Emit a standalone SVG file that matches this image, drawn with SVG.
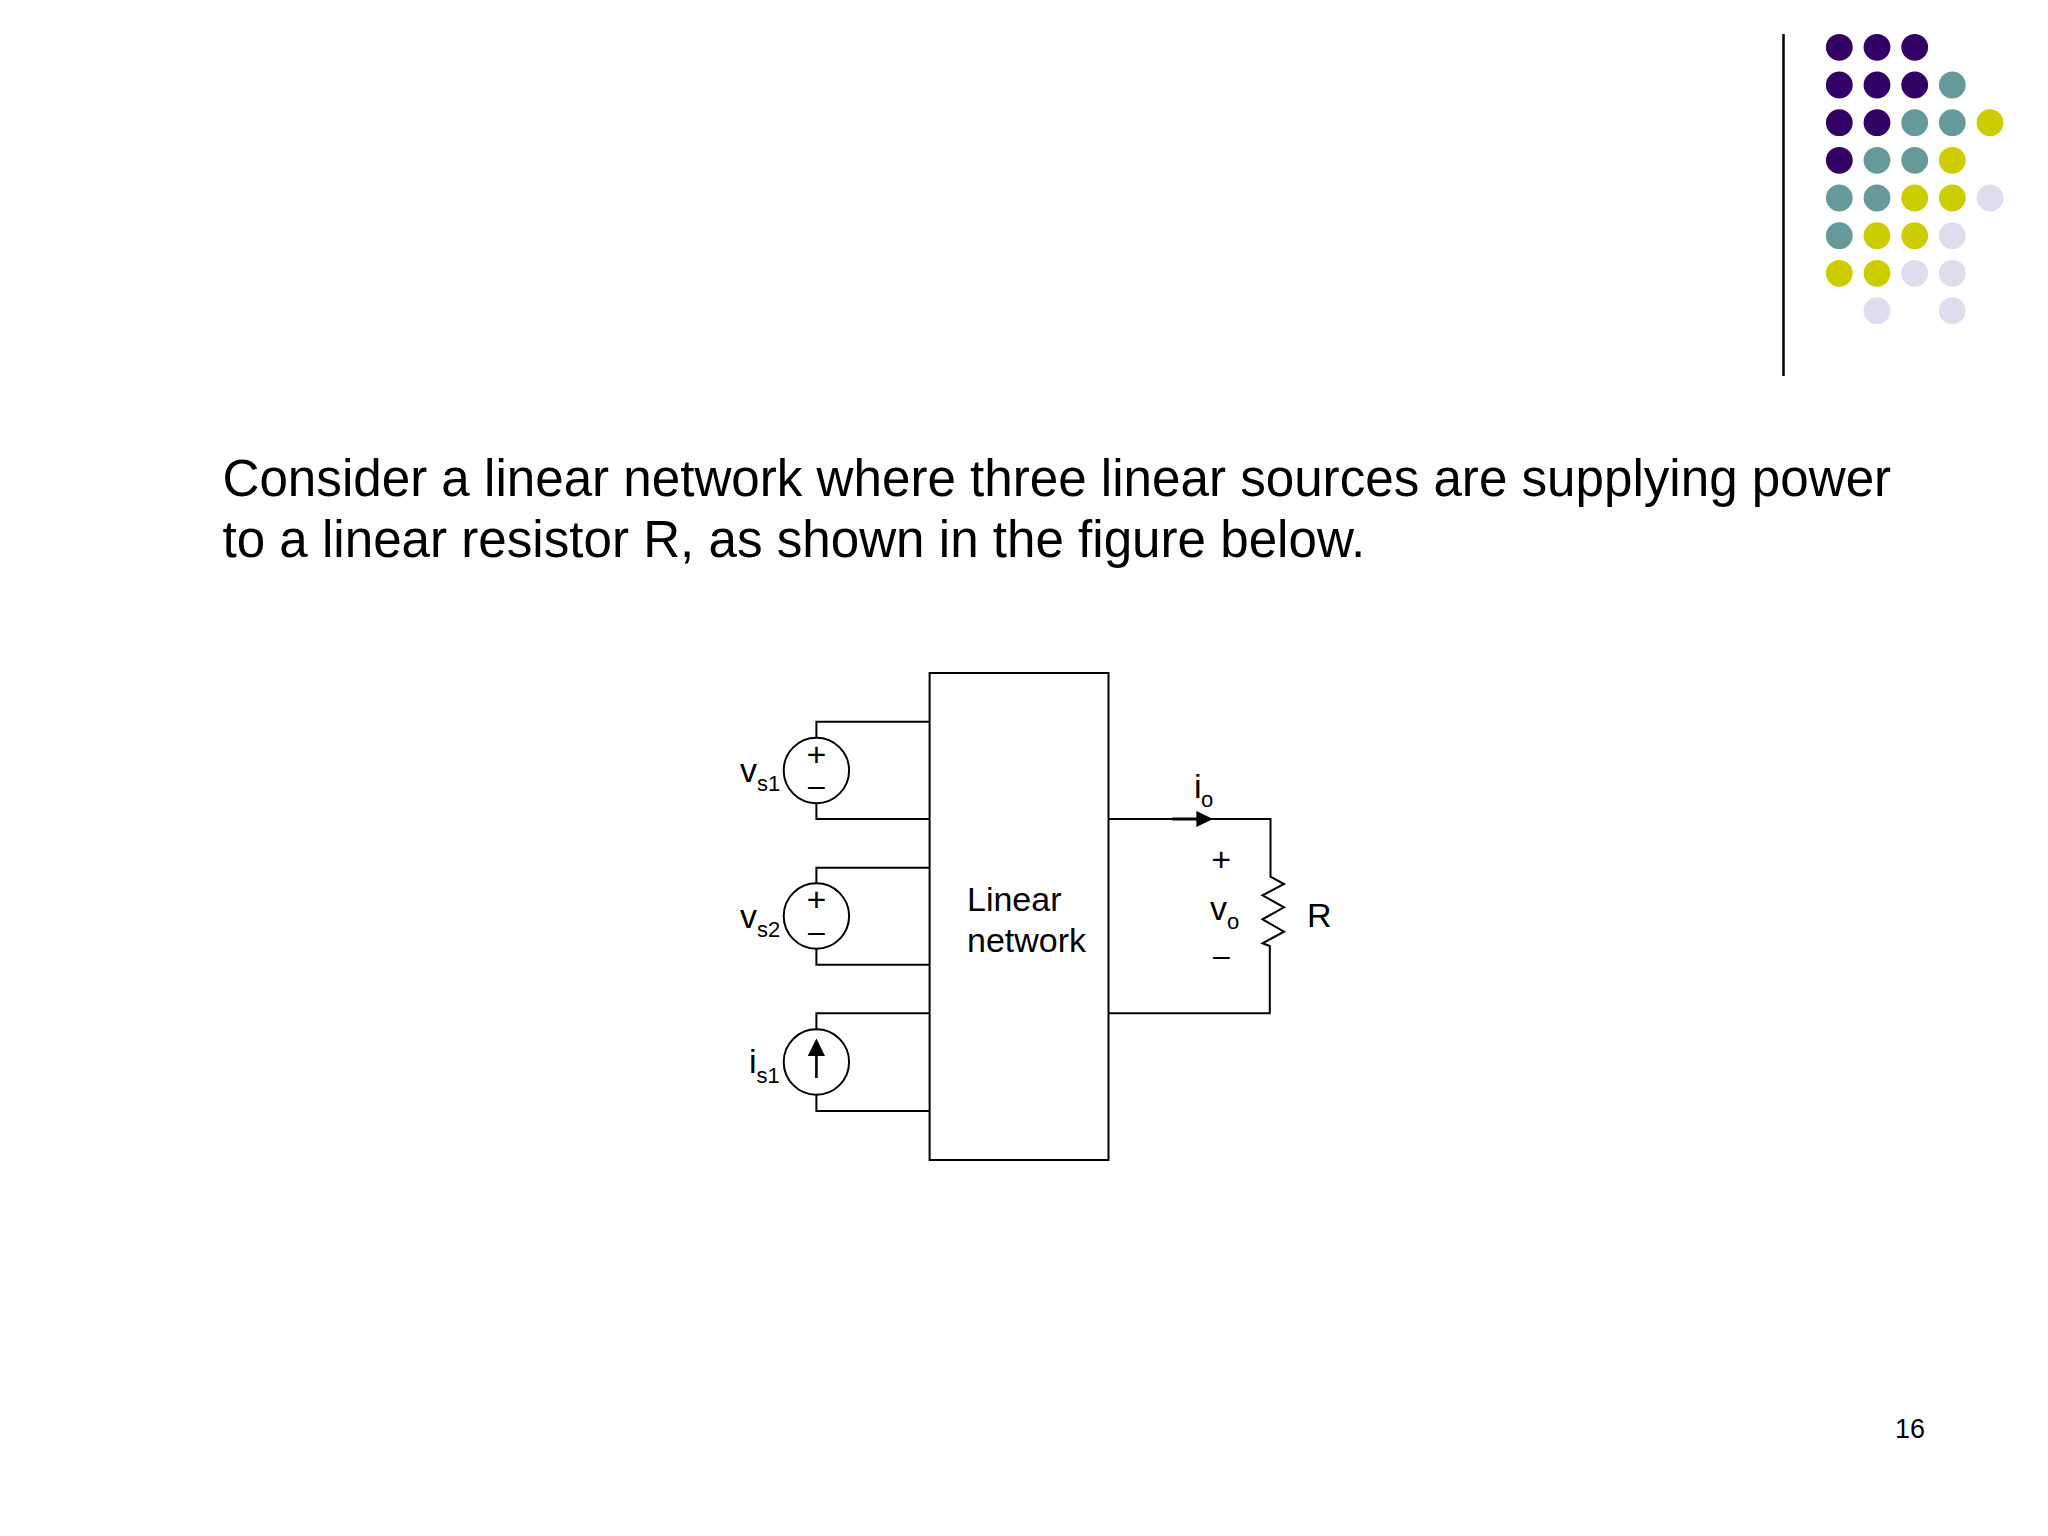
<svg xmlns="http://www.w3.org/2000/svg" width="2048" height="1536" viewBox="0 0 2048 1536">
<style>
text{font-family:"Liberation Sans",Arial,sans-serif;fill:#000}
.t{font-size:51.15px}.l{font-size:34px}.s{font-size:22px}.m{font-size:30px;text-anchor:middle}.a{font-size:34px;text-anchor:middle}
.w{fill:none;stroke:#000;stroke-width:2}
.p{fill:#330066}.g{fill:#669999}.y{fill:#CCCC00}.v{fill:#DDDDEE}
</style>
<rect width="2048" height="1536" fill="#fff"/>
<g id="decoration">
<line x1="1783.5" y1="34" x2="1783.5" y2="376" stroke="#000" stroke-width="2.5"/>
<g>
<circle class="p" cx="1839.3" cy="47.3" r="13.4"/><circle class="p" cx="1877" cy="47.3" r="13.4"/><circle class="p" cx="1914.7" cy="47.3" r="13.4"/>
<circle class="p" cx="1839.3" cy="85" r="13.4"/><circle class="p" cx="1877" cy="85" r="13.4"/><circle class="p" cx="1914.7" cy="85" r="13.4"/><circle class="g" cx="1952.3" cy="85" r="13.4"/>
<circle class="p" cx="1839.3" cy="122.7" r="13.4"/><circle class="p" cx="1877" cy="122.7" r="13.4"/><circle class="g" cx="1914.7" cy="122.7" r="13.4"/><circle class="g" cx="1952.3" cy="122.7" r="13.4"/><circle class="y" cx="1990" cy="122.7" r="13.4"/>
<circle class="p" cx="1839.3" cy="160.3" r="13.4"/><circle class="g" cx="1877" cy="160.3" r="13.4"/><circle class="g" cx="1914.7" cy="160.3" r="13.4"/><circle class="y" cx="1952.3" cy="160.3" r="13.4"/>
<circle class="g" cx="1839.3" cy="198" r="13.4"/><circle class="g" cx="1877" cy="198" r="13.4"/><circle class="y" cx="1914.7" cy="198" r="13.4"/><circle class="y" cx="1952.3" cy="198" r="13.4"/><circle class="v" cx="1990" cy="198" r="13.4"/>
<circle class="g" cx="1839.3" cy="235.7" r="13.4"/><circle class="y" cx="1877" cy="235.7" r="13.4"/><circle class="y" cx="1914.7" cy="235.7" r="13.4"/><circle class="v" cx="1952.3" cy="235.7" r="13.4"/>
<circle class="y" cx="1839.3" cy="273.3" r="13.4"/><circle class="y" cx="1877" cy="273.3" r="13.4"/><circle class="v" cx="1914.7" cy="273.3" r="13.4"/><circle class="v" cx="1952.3" cy="273.3" r="13.4"/>
<circle class="v" cx="1877" cy="310.7" r="13.4"/><circle class="v" cx="1952.3" cy="310.7" r="13.4"/>
</g>
</g>
<g id="title">
<text class="t" x="222.5" y="495.5">Consider a linear network where three linear sources are supplying power</text>
<text class="t" x="222.5" y="557">to a linear resistor R, as shown in the figure below.</text>
</g>
<g id="connectors">
<path class="w" d="M929.6 721.7H816.4V737.7M816.4 803.3V819H929.6"/>
<path class="w" d="M929.6 867.7H816.4V883.3M816.4 948.7V964.7H929.6"/>
<path class="w" d="M929.6 1013.3H816.4V1029.3M816.4 1095V1111H929.6"/>
<path class="w" d="M1108.5 819H1270.5V876.7L1284 884L1262.5 895.3L1284 907.3L1262.5 919.3L1284 931.7L1262.5 943.3L1269.8 946V1013.3H1108.5"/>
<polygon points="1196.4,811 1213,819 1196.4,827" fill="#000"/>
<line x1="1172.4" y1="819" x2="1197" y2="819" stroke="#000" stroke-width="3"/>
</g>
<g id="network">
<rect class="w" x="929.6" y="673" width="178.9" height="487" fill="#fff"/>
<text class="l" x="967" y="910.7">Linear</text>
<text class="l" x="967" y="951.7">network</text>
</g>
<g id="vs1">
<circle class="w" cx="816.4" cy="770.5" r="32.7"/>
<text class="a" x="816.4" y="766">+</text>
<text class="m" x="816.4" y="796">–</text>
<text class="l" x="740" y="781.7">v</text><text class="s" x="757" y="791">s1</text>
</g>
<g id="vs2">
<circle class="w" cx="816.4" cy="916" r="32.7"/>
<text class="a" x="816.4" y="911">+</text>
<text class="m" x="816.4" y="942">–</text>
<text class="l" x="740" y="928.3">v</text><text class="s" x="757" y="937">s2</text>
</g>
<g id="is1">
<circle class="w" cx="816.4" cy="1062" r="32.7"/>
<line x1="816.4" y1="1078" x2="816.4" y2="1054" stroke="#000" stroke-width="2.6"/>
<polygon points="816.4,1038.5 825,1056 807.8,1056" fill="#000"/>
<text class="l" x="749" y="1073">i</text><text class="s" x="756.6" y="1082.5">s1</text>
</g>
<g id="output-labels">
<text class="l" x="1194" y="797.7">i</text><text class="s" x="1201" y="807.3">o</text>
<text class="a" x="1221.3" y="871">+</text>
<text class="l" x="1210" y="920">v</text><text class="s" x="1227" y="928.7">o</text>
<text class="m" x="1221.3" y="965.5">–</text>
</g>
<g id="resistor-label"><text class="l" x="1307" y="926.7">R</text></g>
<g id="page-number"><text x="1895" y="1438" font-size="27">16</text></g>
</svg>
